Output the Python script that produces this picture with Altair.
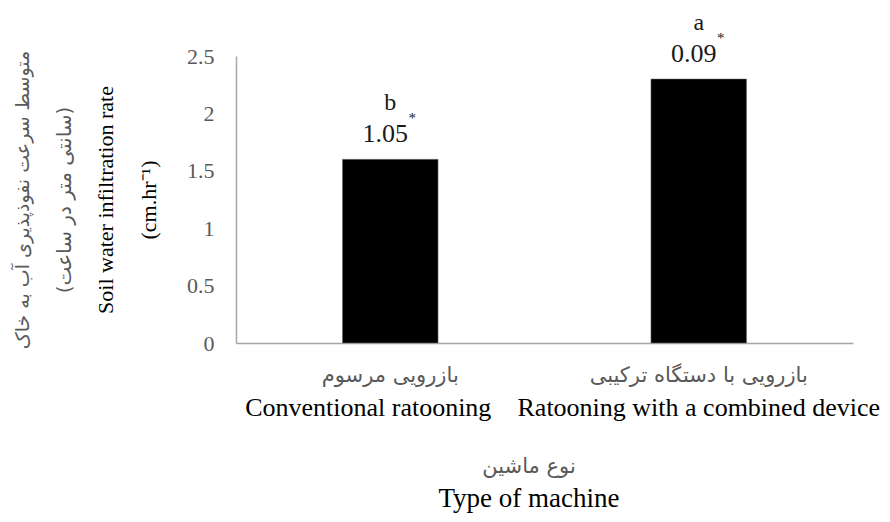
import altair as alt
import pandas as pd

# ---- data ----
cat_en = ["Conventional ratooning", "Ratooning with a combined device"]
cat_fa = ["بازرویی مرسوم", "بازرویی با دستگاه ترکیبی"]
values = [1.6, 2.3]
letters = ["b", "a"]
annot = ["1.05", "0.09"]
y_ticks = [0, 0.5, 1, 1.5, 2, 2.5]

y_title_fa1 = "متوسط سرعت نفوذپذیری آب به خاک"
y_title_fa2 = "(سانتی متر در ساعت)"
y_title_en1 = "Soil water infiltration rate"
y_title_en2 = "(cm.hr\u207b\u00b9)"
x_title_fa = "نوع ماشین"
x_title_en = "Type of machine"

df = pd.DataFrame({"cat": cat_en, "fa": cat_fa, "val": values,
                   "letter": letters, "annot": annot, "star": ["*", "*"]})

SERIF = "Liberation Serif"
FA = "DejaVu Sans"
GRAY = "#595959"
AXIS = "#a6a6a6"

x = alt.X("cat:N", sort=cat_en,
          scale=alt.Scale(paddingInner=0.69, paddingOuter=0.345),
          axis=alt.Axis(labels=False, ticks=False, title=None, domainColor=AXIS,
                        domainWidth=1.5, grid=False))
y = alt.Y("val:Q", scale=alt.Scale(domain=[0, 2.5], nice=False),
          axis=alt.Axis(values=y_ticks, format=".1~f", ticks=False, grid=False,
                        title=None, domainColor=AXIS, domainWidth=1.5,
                        labelFont=SERIF, labelFontSize=22, labelColor=GRAY,
                        labelPadding=22))

base = alt.Chart(df).encode(x=x)

bars = base.mark_bar(color="black", stroke="#7f7f7f", strokeWidth=0.5).encode(y=y)

num = base.mark_text(font=SERIF, fontSize=26, color="#1a1a1a", dx=-5, dy=-17,
                     baseline="alphabetic").encode(y="val:Q", text="annot:N")
star = base.mark_text(font=SERIF, fontSize=15, color="#1a1a1a", dx=22, dy=-36,
                      baseline="alphabetic").encode(y="val:Q", text="star:N")
let = base.mark_text(font=SERIF, fontSize=24, color="#1a1a1a", dy=-49,
                     baseline="alphabetic").encode(y="val:Q", text="letter:N")

lab_fa = base.mark_text(font=FA, fontSize=21, color=GRAY, baseline="middle").encode(
    y=alt.value(320), text="fa:N")
lab_en1 = base.mark_text(font=SERIF, fontSize=26, color="black", baseline="alphabetic",
                         dx=-22).encode(y=alt.value(360), text="cat:N").transform_filter(
    alt.datum.cat == cat_en[0])
lab_en2 = base.mark_text(font=SERIF, fontSize=26, color="black", baseline="alphabetic"
                         ).encode(y=alt.value(360), text="cat:N").transform_filter(
    alt.datum.cat == cat_en[1])

xt_fa = alt.Chart(pd.DataFrame({"t": [x_title_fa]})).mark_text(
    font=FA, fontSize=21, color=GRAY, baseline="middle").encode(
    x=alt.value(293), y=alt.value(411), text="t:N")
xt_en = alt.Chart(pd.DataFrame({"t": [x_title_en]})).mark_text(
    font=SERIF, fontSize=27, color="black", baseline="alphabetic").encode(
    x=alt.value(293), y=alt.value(451), text="t:N")

def ytitle(txt, xpos, font, size, color):
    return alt.Chart(pd.DataFrame({"t": [txt]})).mark_text(
        font=font, fontSize=size, color=color, angle=270, baseline="middle",
        align="center").encode(x=alt.value(xpos), y=alt.value(144), text="t:N")

yt1 = ytitle(y_title_fa1, -213, FA, 19, GRAY)
yt2 = ytitle(y_title_fa2, -171, FA, 20, GRAY)
yt3 = ytitle(y_title_en1, -130, SERIF, 22, "black")
yt4 = ytitle(y_title_en2, -87, SERIF, 22, "black")

chart = alt.layer(bars, num, star, let, lab_fa, lab_en1, lab_en2, xt_fa, xt_en,
                  yt1, yt2, yt3, yt4).properties(
    width=617, height=287,
    background="white",
    autosize=alt.AutoSizeParams(type="none"),
    padding={"left": 228, "top": 48, "right": 29, "bottom": 171},
).configure_view(stroke="transparent", strokeWidth=0)

chart.save("out.html", embed_options={"renderer": "svg", "actions": False})
